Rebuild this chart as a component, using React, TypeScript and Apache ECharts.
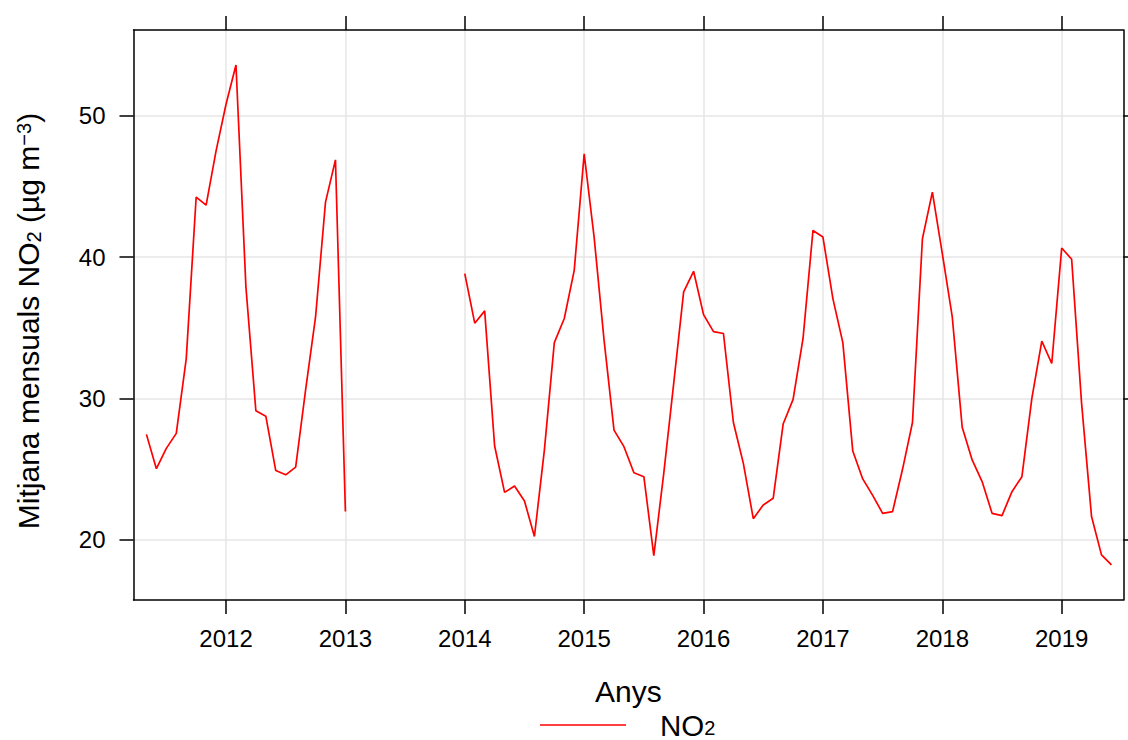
import React, { useEffect, useRef } from "react";
import * as echarts from "echarts";

// Monthly mean NO2 (µg m-3), one entry per month; null = no data
const months: string[] = [
  "2011-05", "2011-06", "2011-07", "2011-08", "2011-09", "2011-10", "2011-11", "2011-12",
  "2012-01", "2012-02", "2012-03", "2012-04", "2012-05", "2012-06", "2012-07", "2012-08", "2012-09", "2012-10", "2012-11", "2012-12",
  "2013-01", "2013-02", "2013-03", "2013-04", "2013-05", "2013-06", "2013-07", "2013-08", "2013-09", "2013-10", "2013-11", "2013-12",
  "2014-01", "2014-02", "2014-03", "2014-04", "2014-05", "2014-06", "2014-07", "2014-08", "2014-09", "2014-10", "2014-11", "2014-12",
  "2015-01", "2015-02", "2015-03", "2015-04", "2015-05", "2015-06", "2015-07", "2015-08", "2015-09", "2015-10", "2015-11", "2015-12",
  "2016-01", "2016-02", "2016-03", "2016-04", "2016-05", "2016-06", "2016-07", "2016-08", "2016-09", "2016-10", "2016-11", "2016-12",
  "2017-01", "2017-02", "2017-03", "2017-04", "2017-05", "2017-06", "2017-07", "2017-08", "2017-09", "2017-10", "2017-11", "2017-12",
  "2018-01", "2018-02", "2018-03", "2018-04", "2018-05", "2018-06", "2018-07", "2018-08", "2018-09", "2018-10", "2018-11", "2018-12",
  "2019-01", "2019-02", "2019-03", "2019-04", "2019-05", "2019-06",
];

const no2: (number | null)[] = [
  27.46, 25.03, 26.47, 27.53, 32.8, 44.24, 43.67, 47.5,
  50.8, 53.58, 37.88, 29.13, 28.75, 24.9, 24.6, 25.15, 30.6, 35.76, 43.88, 46.87,
  22.0, null, null, null, null, null, null, null, null, null, null, null,
  38.82, 35.32, 36.19, 26.64, 23.36, 23.81, 22.75, 20.24, 26.35, 33.95, 35.65, 39.06,
  47.29, 41.41, 34.12, 27.76, 26.59, 24.75, 24.47, 18.89, 24.7, 31.06, 37.53, 38.99,
  35.93, 34.72, 34.59, 28.3, 25.41, 21.5, 22.47, 22.94, 28.19, 29.93, 34.24, 41.88,
  41.41, 37.06, 33.95, 26.28, 24.31, 23.15, 21.88, 22.0, 24.99, 28.3, 41.29, 44.59,
  40.24, 35.76, 27.96, 25.65, 24.12, 21.88, 21.72, 23.41, 24.47, 30.0, 34.05, 32.47,
  40.64, 39.84, 29.65, 21.65, 18.94, 18.24,
];

const yearTicks: number[] = [2012, 2013, 2014, 2015, 2016, 2017, 2018, 2019];
const yTicks: number[] = [20, 30, 40, 50];

const FONT = "'Liberation Sans', Arial, Helvetica, sans-serif";

export default function App() {
  const ref = useRef<HTMLDivElement>(null);

  useEffect(() => {
    if (!ref.current) return;
    const chart = echarts.init(ref.current, null, { renderer: "svg" });

    // position of a month on a continuous "year" scale (start of month)
    const toYear = (s: string) => {
      const [y, m] = s.split("-").map(Number);
      return y + (m - 1) / 12;
    };
    const data = months.map((m, i) => [toYear(m), no2[i]]);
    const xMin = 2011.225;
    const xMax = 2019.516;
    const yMin = 15.75;
    const yMax = 56.05;

    const lineBlack = { color: "#000", width: 1.5 };
    const grid = { lineStyle: { color: "#e6e6e6", width: 1.5 } };

    chart.setOption({
      animation: false,
      backgroundColor: "#fff",
      textStyle: { fontFamily: FONT },
      grid: { left: 133.5, right: 4.7, top: 30, bottom: 140, containLabel: false },
      legend: {
        show: true,
        left: 540,
        top: 710,
        padding: 0,
        itemWidth: 86,
        itemHeight: 1.6,
        data: [{ name: "NO2", icon: "rect" }],
        itemStyle: { color: "#ff0000" },
        formatter: () => "{sp|}{a|NO}{s|2}",
        textStyle: {
          fontFamily: FONT,
          color: "#000",
          rich: {
            sp: { width: 29 },
            a: { fontSize: 29.5, lineHeight: 26, fontFamily: FONT, color: "#000" },
            s: { fontSize: 20, lineHeight: 4, verticalAlign: "bottom", fontFamily: FONT, color: "#000" },
          },
        },
      },
      xAxis: [
        {
          type: "value",
          position: "bottom",
          min: xMin,
          max: xMax,
          name: "Anys",
          nameLocation: "middle",
          nameGap: 76,
          nameTextStyle: { fontSize: 30, color: "#000", fontFamily: FONT },
          axisLine: { show: true, lineStyle: lineBlack },
          axisTick: { show: true, length: 14, inside: false, lineStyle: lineBlack, customValues: yearTicks },
          axisLabel: {
            show: true,
            margin: 26,
            fontSize: 24,
            color: "#000",
            fontFamily: FONT,
            customValues: yearTicks,
            formatter: (v: number) => String(Math.round(v)),
          },
          splitLine: { show: true, ...grid },
        },
        {
          type: "value",
          position: "top",
          min: xMin,
          max: xMax,
          axisLine: { show: true, lineStyle: lineBlack },
          axisTick: { show: true, length: 14, inside: false, lineStyle: lineBlack, customValues: yearTicks },
          axisLabel: { show: false, customValues: yearTicks },
          splitLine: { show: false },
        },
      ],
      yAxis: [
        {
          type: "value",
          position: "left",
          min: yMin,
          max: yMax,
          name: "{a|Mitjana mensuals NO}{s|2}{a| (µg m}{p|−3}{a|)}",
          nameLocation: "middle",
          nameGap: 90,
          nameRotate: 90,
          nameTextStyle: {
            fontSize: 30,
            color: "#000",
            fontFamily: FONT,
            padding: [0, 12, 0, 0],
            rich: {
              a: { fontSize: 30, lineHeight: 30, fontFamily: FONT, color: "#000" },
              s: { fontSize: 20, lineHeight: 6, verticalAlign: "bottom", fontFamily: FONT, color: "#000" },
              p: { fontSize: 20, lineHeight: 4, verticalAlign: "top", fontFamily: FONT, color: "#000" },
            },
          },
          axisLine: { show: true, lineStyle: lineBlack },
          axisTick: { show: true, length: 14, inside: false, lineStyle: lineBlack, customValues: yTicks },
          axisLabel: {
            show: true,
            margin: 28,
            fontSize: 24,
            color: "#000",
            fontFamily: FONT,
            customValues: yTicks,
          },
          splitLine: { show: true, ...grid },
        },
        {
          type: "value",
          position: "right",
          min: yMin,
          max: yMax,
          axisLine: { show: true, lineStyle: lineBlack },
          axisTick: { show: true, length: 14, inside: false, lineStyle: lineBlack, customValues: yTicks },
          axisLabel: { show: false, customValues: yTicks },
          splitLine: { show: false },
        },
      ],
      series: [
        {
          name: "NO2",
          type: "line",
          xAxisIndex: 0,
          yAxisIndex: 0,
          data,
          symbol: "none",
          showSymbol: false,
          connectNulls: false,
          lineStyle: { color: "#ff0000", width: 1.7 },
          itemStyle: { color: "#ff0000" },
        },
      ],
    });

    return () => chart.dispose();
  }, []);

  return (
    <div
      ref={ref}
      style={{ position: "fixed", left: 0, top: 0, width: 1128, height: 740, background: "#fff" }}
    />
  );
}
